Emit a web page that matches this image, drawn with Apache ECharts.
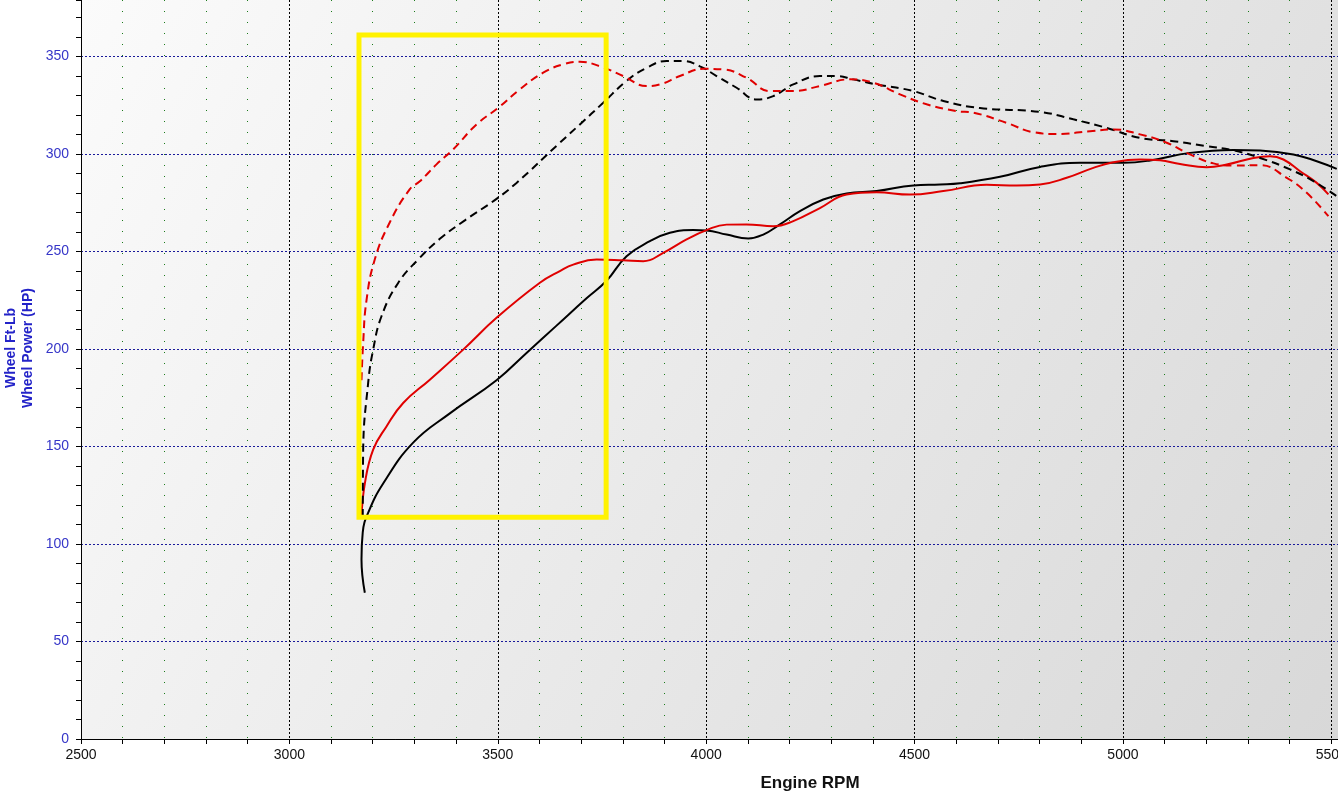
<!DOCTYPE html>
<html>
<head>
<meta charset="utf-8">
<script src="https://cdn.jsdelivr.net/npm/echarts@6/dist/echarts.min.js"></script>
<style>
html,body{margin:0;padding:0;background:#fff;overflow:hidden;width:1338px;height:802px;}
#chart{width:1338px;height:802px;}
</style>
</head>
<body>
<div id="chart"></div>
<script>
// ---- data (Engine RPM, value) ----
const blackSolid = [[3181,75],[3173,92],[3176,106],[3189,116],[3225,131],[3297,152],[3385,167],[3497,184],[3569,198],[3641,212],[3713,226],[3761,235],[3809,247.6],[3865,255.3],[3913,259.6],[3969,261],[4001,260.8],[4049,258.7],[4101,256.7],[4137,258.7],[4177,263.9],[4225,270.7],[4281,276.7],[4337,279.8],[4409,281],[4497,283.9],[4561,284.4],[4609,285],[4705,288.3],[4801,293.4],[4897,295.5],[5001,295.5],[5065,296.7],[5161,300.6],[5265,302.1],[5329,301.8],[5409,299.8],[5465,296.3],[5513,292.4]];
const redSolid = [[3173,114],[3181,131],[3201,148.4],[3233,160.3],[3273,172.3],[3337,184.3],[3417,199.7],[3497,216],[3601,234],[3649,240],[3681,243.3],[3737,245.9],[3800,245.5],[3849,245],[3897,249.3],[3953,256.2],[4001,261],[4049,263.8],[4097,263.9],[4161,263],[4209,265.6],[4273,272.3],[4337,279.2],[4409,280.4],[4489,279.2],[4569,281],[4673,284.2],[4745,283.9],[4801,284.4],[4865,287.8],[4929,292.9],[4977,295.8],[5041,297.2],[5089,296.8],[5137,294.9],[5201,293.2],[5249,294.6],[5313,298],[5353,298.9],[5385,297.2],[5425,291.2],[5465,285.2],[5493,279.3]];
const blackDashed = [[3176,114],[3177,148],[3189,182.6],[3201,199.7],[3221,216.8],[3261,233.9],[3309,245.9],[3361,256.5],[3421,266],[3497,277],[3545,285.2],[3649,305.8],[3697,315.2],[3753,326.3],[3809,337.5],[3857,344.2],[3905,347.7],[3945,347.7],[3985,345],[4025,340],[4073,334],[4121,328],[4161,329.7],[4209,335.7],[4273,340],[4313,340],[4353,338.3],[4409,335.7],[4497,332.3],[4569,327.2],[4657,323.6],[4801,321.6],[4881,317.8],[4961,313.4],[5041,308.3],[5121,306.6],[5201,304],[5265,301.9],[5329,298],[5401,292.1],[5457,286.1],[5513,278.4]];
const redDashed = [[3173,184],[3177,203],[3185,225],[3205,246],[3241,265],[3289,282],[3313,286],[3353,294.7],[3393,302.4],[3449,315.2],[3501,323.7],[3553,333.2],[3609,341.7],[3657,346],[3697,347.3],[3745,345],[3801,340],[3857,334.9],[3889,335.7],[3937,340],[3993,343.7],[4041,343.4],[4097,339.1],[4153,332.3],[4209,332.3],[4273,334.9],[4345,338.3],[4401,336.6],[4465,330.6],[4529,325.5],[4601,322],[4641,321.2],[4721,316],[4785,311.2],[4841,310.3],[4921,311.7],[4977,312.6],[5041,310.1],[5105,305.8],[5161,299.8],[5217,295.2],[5265,294.1],[5329,294.3],[5393,287.8],[5441,280.1],[5493,268.1]];
const highlightBox = [[3167,361],[3760,361],[3760,113.7],[3167,113.7],[3167,361]];
const xRange = [2500, 5516];
const yRange = [0, 379];
const xTitle = 'Engine RPM';
const yTitles = ['Wheel Ft-Lb', 'Wheel Power (HP)'];

const chart = echarts.init(document.getElementById('chart'));
const FONT = 'Liberation Sans, Arial, sans-serif';
function curve(data, color, dashed) {
  return {
    type: 'line', data: data, showSymbol: false, symbol: 'none', smooth: 0.45,
    lineStyle: { color: color, width: 2, type: dashed ? [8, 5] : 'solid' },
    z: 3, silent: true
  };
}
chart.setOption({
  animation: false,
  backgroundColor: '#ffffff',
  grid: {
    left: 81, right: 0, top: 0, bottom: 63, show: true, borderWidth: 0,
    containLabel: false, outerBoundsMode: 'none',
    backgroundColor: new echarts.graphic.LinearGradient(0, 0, 1, 1, [
      { offset: 0, color: '#fbfbfb' }, { offset: 1, color: '#d8d8d8' }
    ])
  },
  xAxis: {
    type: 'value', min: xRange[0], max: xRange[1], interval: 500,
    axisLine: { show: true, onZero: false, lineStyle: { color: '#000', width: 1 } },
    axisTick: { show: true, length: 5, lineStyle: { color: '#000' } },
    minorTick: { show: true, splitNumber: 5, length: 5, lineStyle: { color: '#000' } },
    axisLabel: { color: '#111', fontSize: 14, fontFamily: FONT, margin: 9, showMaxLabel: false,
      formatter: function (v) { return String(v); } },
    splitLine: { show: true, showMaxLine: false, lineStyle: { color: '#000', width: 1, type: [2, 2] } },
    minorSplitLine: { show: true, lineStyle: { color: '#1a7a1a', width: 1, type: [1, 10] } }
  },
  yAxis: {
    type: 'value', min: yRange[0], max: yRange[1], interval: 50,
    axisLine: { show: true, lineStyle: { color: '#000', width: 1 } },
    axisTick: { show: true, length: 5, lineStyle: { color: '#000' } },
    minorTick: { show: true, splitNumber: 5, length: 5, lineStyle: { color: '#000' } },
    axisLabel: { color: '#3636c8', fontSize: 14, fontFamily: FONT, margin: 12, showMaxLabel: false,
      formatter: function (v) { return String(v); } },
    splitLine: { show: true, showMaxLine: false, lineStyle: { color: '#1a1a9a', width: 1, type: [2, 2] } }
  },
  graphic: [
    { type: 'text', x: 810, y: 783, style: { text: xTitle, font: 'bold 17px ' + FONT, fill: '#111', align: 'center', verticalAlign: 'middle' } },
    { type: 'text', x: 11, y: 348, rotation: Math.PI / 2, style: { text: yTitles[0], font: 'bold 14px ' + FONT, fill: '#2323c8', align: 'center', verticalAlign: 'middle' } },
    { type: 'text', x: 28, y: 348, rotation: Math.PI / 2, style: { text: yTitles[1], font: 'bold 14px ' + FONT, fill: '#2323c8', align: 'center', verticalAlign: 'middle' } }
  ],
  series: [
    curve(blackSolid, '#000000', false),
    curve(redSolid, '#e00000', false),
    curve(blackDashed, '#000000', true),
    curve(redDashed, '#e00000', true),
    {
      type: 'line', data: highlightBox, showSymbol: false, symbol: 'none', smooth: false, silent: true,
      lineStyle: { color: '#fff200', width: 5, join: 'miter', cap: 'square' }, z: 5
    }
  ]
});
</script>
</body>
</html>
